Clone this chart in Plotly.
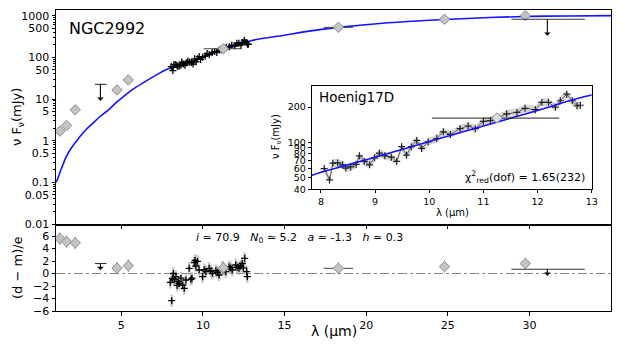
import plotly.graph_objects as go
import math

# ---------------- data ----------------
model_lam = [1.0, 1.1, 1.2, 1.3, 1.45, 1.6, 1.8, 2.0, 2.25, 2.5, 2.85, 3.2, 3.7, 4.2, 4.7, 5.2, 5.7,
             6.3, 7.0, 7.8, 8.5, 9.3, 10.0, 11.0, 12.0, 13.0, 15.0, 16.5, 18.3, 21.0, 24.8, 27.5,
             30.0, 32.5, 35.0]
model_val = [0.1, 0.12, 0.155, 0.2, 0.28, 0.39, 0.55, 0.72, 0.97, 1.3, 1.85, 2.5, 3.8, 5.4, 8.3, 12,
             17, 24, 35, 52, 64.5, 82, 102, 138, 187, 253, 340, 425, 525, 660, 810, 900,
             960, 985, 1000]

spec_lam = [8.06, 8.16, 8.22, 8.31, 8.40, 8.46, 8.55, 8.65, 8.71, 8.80, 8.90, 8.99, 9.08, 9.18,
            9.30, 9.40, 9.49, 9.58, 9.67, 9.77, 9.86, 9.98, 10.14, 10.26, 10.39, 10.57, 10.72,
            10.85, 11.0, 11.13, 11.25, 11.43, 11.62, 11.77, 11.96, 12.08, 12.2, 12.33, 12.42,
            12.54, 12.64, 12.73, 12.79]
spec_val = [60, 48, 66.7, 67, 64.6, 60.6, 62, 65, 77, 69, 64.6, 74, 81, 77, 75, 69, 92, 78, 92,
            104, 89, 101, 108, 123, 117, 131, 138, 131, 151, 153, 161, 175, 180, 195, 190, 219,
            219, 199, 226, 257, 226, 205, 207]
spec_band = 1.08  # relative half-width of the grey uncertainty band

res_lam = [8.0, 8.09, 8.13, 8.19, 8.25, 8.35, 8.42, 8.49, 8.55, 8.66, 8.76, 8.86, 8.96, 9.16,
           9.27, 9.33, 9.47, 9.52, 9.57, 9.67, 9.77, 9.98, 10.08, 10.18, 10.38, 10.48, 10.59,
           10.79, 10.89, 10.99, 11.2, 11.3, 11.4, 11.6, 11.7, 11.8, 12.01, 12.1, 12.21, 12.31,
           12.41, 12.48, 12.56, 12.68, 12.72]
res_val = [-1.41, -4.35, -0.8, 0.0, -1.0, -0.5, -1.9, -1.3, -1.6, -0.75, -1.84, -2.37, -1.04,
           0.83, -0.93, -0.75, 1.76, 2.1, 1.2, 1.95, 0.56, -0.5, 0.6, 0.3, 0.83, 0.4, 0.03, 0.45,
           0.2, -0.24, 1.0, 0.7, 0.3, 1.1, 0.9, 0.56, 1.36, 1.0, 0.83, 1.2, 1.6, 0.9, 2.43, 0.3,
           -0.5]

phot_lam = [1.24, 1.65, 2.18, 4.74, 5.43, 11.25, 18.3, 24.8, 29.75]
phot_val = [1.7, 2.3, 5.5, 16.5, 28.6, 161, 525, 820, 1000]
phot_err = [0.15, 0.2, 0.45, 3.0, 5.0, 12, 40, 70, 90]
phot_xminus = [0, 0, 0, 0, 0, 1.2, 0.9, 0, 0]
phot_xplus = [0, 0, 0, 0, 0, 1.15, 0.9, 0, 0]
phot_res = [5.6, 5.1, 4.9, 0.85, 1.25, 0.9, 0.83, 1.1, 1.6]
phot_res_xerr = [0, 0, 0, 0, 0, 0, 0.9, 0, 0]

ul_lam = [3.72, 31.1]
ul_val = [22.5, 820]
ul_res = [1.6, 0.67]
ul_xminus = [0.34, 2.2]
ul_xplus = [0.37, 2.3]

y_tickvals = [0.01, 0.05, 0.1, 0.5, 1, 5, 10, 50, 100, 500, 1000]
y_ticktext = ["0.01", "0.05", "0.1", "0.5", "1", "5", "10", "50", "100", "500", "1000"]
x_tickvals = [5, 10, 15, 20, 25, 30]
res_tickvals = [-6, -4, -2, 0, 2, 4, 6]
in_ytickvals = [40, 50, 60, 70, 80, 90, 100, 200]
in_xtickvals = [8, 9, 10, 11, 12, 13]

# ---------------- styles ----------------
FONT = "DejaVu Sans"
DIA_FILL = "#c4c4c4"
DIA_EDGE = "#8c8c8c"
BLUE = "#1414ff"

# page body has an 8 px default margin: compensate so the plot area sits at
# x 56..611, y 10..311 in the 623x346 window
W, H = 615, 338
ML, MR, MT, MB = 48, 12, 2, 35
PW, PH = W - ML - MR, H - MT - MB
OX, OY = 8 + ML, 8 + MT  # window position of plot area's top-left


def px(xw):
    return (xw - OX) / PW


def py(yw):
    return (OY + PH - yw) / PH


fig = go.Figure()

# main panel
fig.add_trace(go.Scatter(x=model_lam, y=model_val, mode="lines", line=dict(color=BLUE, width=1.6, shape="spline"),
                         xaxis="x", yaxis="y", hoverinfo="skip"))
fig.add_trace(go.Scatter(x=spec_lam, y=spec_val, mode="lines+markers", line=dict(color="black", width=1.6),
                         marker=dict(symbol="cross-thin", size=5, line=dict(color="black", width=1.3)),
                         xaxis="x", yaxis="y"))
fig.add_trace(go.Scatter(x=phot_lam, y=phot_val, mode="markers",
                         marker=dict(symbol="diamond", size=8, color=DIA_FILL, line=dict(color=DIA_EDGE, width=1)),
                         error_y=dict(type="data", array=phot_err, color="#8c8c8c", thickness=1, width=0),
                         error_x=dict(type="data", array=phot_xplus, arrayminus=phot_xminus, color="#444", thickness=1, width=0),
                         xaxis="x", yaxis="y"))
fig.add_trace(go.Scatter(x=ul_lam, y=ul_val, mode="markers", marker=dict(size=1, color="rgba(0,0,0,0)"),
                         error_x=dict(type="data", array=ul_xplus, arrayminus=ul_xminus, color="#333", thickness=1.1, width=0),
                         xaxis="x", yaxis="y"))

# residual panel
fig.add_trace(go.Scatter(x=res_lam, y=res_val, mode="markers",
                         marker=dict(symbol="cross-thin", size=5, line=dict(color="black", width=1.3)),
                         error_y=dict(type="constant", value=1, color="rgba(170,170,170,0.6)", thickness=2.5, width=0),
                         xaxis="x2", yaxis="y2"))
fig.add_trace(go.Scatter(x=phot_lam, y=phot_res, mode="markers",
                         marker=dict(symbol="diamond", size=8, color=DIA_FILL, line=dict(color=DIA_EDGE, width=1)),
                         error_y=dict(type="constant", value=1, color="#8c8c8c", thickness=1, width=0),
                         error_x=dict(type="data", array=phot_res_xerr, arrayminus=phot_res_xerr, color="#444", thickness=1, width=0),
                         xaxis="x2", yaxis="y2"))
fig.add_trace(go.Scatter(x=ul_lam, y=ul_res, mode="markers", marker=dict(size=1, color="rgba(0,0,0,0)"),
                         error_x=dict(type="data", array=ul_xplus, arrayminus=ul_xminus, color="#333", thickness=1.1, width=0),
                         xaxis="x2", yaxis="y2"))

# inset: grey band, data, model, photometric point
fig.add_trace(go.Scatter(x=spec_lam, y=[v * spec_band for v in spec_val], mode="lines", line=dict(width=0, color="rgba(0,0,0,0)"),
                         xaxis="x3", yaxis="y3", hoverinfo="skip"))
fig.add_trace(go.Scatter(x=spec_lam, y=[v / spec_band for v in spec_val], mode="lines", line=dict(width=0, color="rgba(0,0,0,0)"),
                         fill="tonexty", fillcolor="rgba(200,200,200,0.75)", xaxis="x3", yaxis="y3", hoverinfo="skip"))
fig.add_trace(go.Scatter(x=spec_lam, y=spec_val, mode="lines+markers", line=dict(color="#444", width=0.8),
                         marker=dict(symbol="cross-thin", size=5, line=dict(color="#222", width=1.2)),
                         xaxis="x3", yaxis="y3"))
fig.add_trace(go.Scatter(x=model_lam, y=model_val, mode="lines", line=dict(color=BLUE, width=1.6, shape="spline"),
                         xaxis="x3", yaxis="y3"))
fig.add_trace(go.Scatter(x=[phot_lam[5]], y=[phot_val[5]], mode="markers",
                         marker=dict(symbol="diamond", size=8, color="#dddddd", line=dict(color=DIA_EDGE, width=1)),
                         error_y=dict(type="data", array=[phot_err[5]], color="#777", thickness=1, width=0),
                         error_x=dict(type="data", array=[phot_xplus[5]], arrayminus=[phot_xminus[5]], color="#222", thickness=1, width=0),
                         xaxis="x3", yaxis="y3"))

axis_common = dict(showline=True, linecolor="black", linewidth=1, mirror=True, ticks="outside",
                   ticklen=3.5, tickwidth=0.8, tickcolor="black", showgrid=False, zeroline=False,
                   tickfont=dict(family=FONT, size=11, color="black"))
inset_axis = {**axis_common, "tickfont": dict(family=FONT, size=9.5, color="black"), "ticklen": 3}

fig.update_layout(
    width=W, height=H,
    margin=dict(l=ML, r=MR, t=MT, b=MB),
    paper_bgcolor="white", plot_bgcolor="white",
    showlegend=False,
    font=dict(family=FONT, color="black"),
    xaxis=dict(domain=[0, 1], anchor="y", range=[1, 35], tickvals=x_tickvals, showticklabels=False, **axis_common),
    yaxis=dict(domain=[py(224), 1], anchor="x", type="log", range=[-2, 3.136], tickmode="array",
               tickvals=y_tickvals, ticktext=y_ticktext,
               minor=dict(ticks="outside", ticklen=2, tickwidth=0.6, tickcolor="black", dtick="D1"),
               **axis_common),
    xaxis2=dict(domain=[0, 1], anchor="y2", range=[1, 35], tickvals=x_tickvals, **axis_common),
    yaxis2=dict(domain=[0, py(226)], anchor="x2", range=[-6, 7.6], tickvals=res_tickvals, **axis_common),
    xaxis3=dict(domain=[px(311.7), px(591.7)], anchor="y3", range=[7.83, 13], tickvals=in_xtickvals, **inset_axis),
    yaxis3=dict(domain=[py(189.3), py(85.7)], anchor="x3", type="log", range=[1.602, 2.482], tickmode="array",
                tickvals=in_ytickvals, ticktext=[str(v) for v in in_ytickvals], **inset_axis),
)

# zero line in residual panel
fig.add_shape(type="line", xref="x2", yref="y2", x0=1, x1=35, y0=0, y1=0,
              line=dict(color="#888888", width=1, dash="dashdot"), layer="below")

# upper-limit arrows
for lam, v in zip(ul_lam, ul_val):
    fig.add_annotation(x=lam, y=math.log10(v), xref="x", yref="y", ax=0, ay=18, text="",
                       showarrow=True, arrowside="start", arrowhead=2, arrowsize=1.1, arrowwidth=1.1,
                       arrowcolor="black")
for lam, v in zip(ul_lam, ul_res):
    fig.add_annotation(x=lam, y=v, xref="x2", yref="y2", ax=0, ay=8, text="",
                       showarrow=True, arrowside="start", arrowhead=2, arrowsize=1.1, arrowwidth=1.1,
                       arrowcolor="black")

# texts
fig.add_annotation(text="NGC2992", x=px(67), y=py(29), xref="paper", yref="paper",
                   xanchor="left", yanchor="middle", showarrow=False, font=dict(family=FONT, size=16))
fig.add_annotation(text="Hoenig17D", x=px(317), y=py(97), xref="paper", yref="paper",
                   xanchor="left", yanchor="middle", showarrow=False, font=dict(family=FONT, size=13.5))
fig.add_annotation(text="χ<sup>2</sup><sub>red</sub>(dof) = 1.65(232)", x=px(587), y=py(177),
                   xref="paper", yref="paper", xanchor="right", yanchor="middle", showarrow=False,
                   font=dict(family=FONT, size=11))
fig.add_annotation(text="<i>i</i> ≃ 70.9\u00a0\u00a0\u00a0<i>N</i><sub>0</sub> ≃ 5.2\u00a0\u00a0\u00a0<i>a</i> ≃ -1.3\u00a0\u00a0\u00a0<i>h</i> ≃ 0.3",
                   x=px(194), y=py(238), xref="paper", yref="paper",
                   xanchor="left", yanchor="middle", showarrow=False, font=dict(family=FONT, size=11))

# axis titles
fig.add_annotation(text="ν F<sub>ν</sub>(mJy)", x=px(17), y=py(117), xref="paper", yref="paper",
                   textangle=-90, xanchor="center", yanchor="middle", showarrow=False, font=dict(family=FONT, size=13))
fig.add_annotation(text="(d − m)/e", x=px(17), y=py(268), xref="paper", yref="paper",
                   textangle=-90, xanchor="center", yanchor="middle", showarrow=False, font=dict(family=FONT, size=13))
fig.add_annotation(text="λ (μm)", x=0.5, y=py(331), xref="paper", yref="paper",
                   xanchor="center", yanchor="middle", showarrow=False, font=dict(family=FONT, size=14))
fig.add_annotation(text="ν F<sub>ν</sub>(mJy)", x=px(276), y=py(137), xref="paper", yref="paper",
                   textangle=-90, xanchor="center", yanchor="middle", showarrow=False, font=dict(family=FONT, size=10))
fig.add_annotation(text="λ (μm)", x=px(452), y=py(212), xref="paper", yref="paper",
                   xanchor="center", yanchor="middle", showarrow=False, font=dict(family=FONT, size=10))

fig.write_html("out.html")
